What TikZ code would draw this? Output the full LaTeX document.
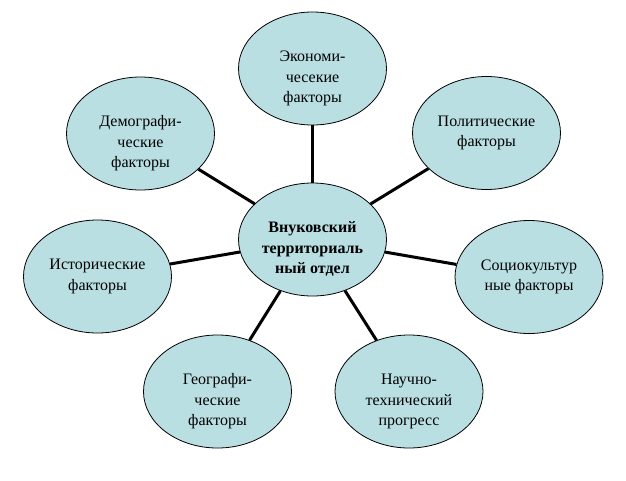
\documentclass[tikz,border=0pt]{standalone}
\usepackage{fontspec}
\newfontfamily\tnr{Liberation Serif}
\usetikzlibrary{shapes.geometric}
\definecolor{bubble}{RGB}{186,223,227}
\tikzset{
  bubble/.style={ellipse, draw=black, line width=0.8pt, fill=bubble,
    minimum width=148pt, minimum height=113pt, inner sep=0pt},
  txt/.style={anchor=base, align=center, inner sep=0pt,
    font=\tnr\fontsize{16}{20.5}\selectfont},
  three/.style={yshift=-34pt},
  two/.style={yshift=-13.5pt},
  link/.style={line width=3pt, black}
}
\begin{document}
\begin{tikzpicture}[x=1pt,y=-1pt]
\useasboundingbox (0,0) rectangle (626,480);
\node[bubble] (c) at (312.5,239.5) {};
\node[bubble] (e1) at (312.5,68.5) {};
\node[bubble] (e2) at (486.5,133) {};
\node[bubble] (e3) at (529,277) {};
\node[bubble] (e4) at (409,391.5) {};
\node[bubble] (e5) at (217.5,391.5) {};
\node[bubble] (e6) at (97.5,276.5) {};
\node[bubble] (e7) at (140.5,133.5) {};
\foreach \n in {e1,e2,e3,e4,e5,e6,e7} \draw[link] (c) -- (\n);
\node[txt, three, font=\tnr\bfseries\fontsize{16}{20.5}\selectfont] (tc) at (c.center) {Внуковский\\территориаль\\ный отдел};
\node[txt, three] (t1) at (e1.center) {Экономи-\\чесекие\\факторы};
\node[txt, two] (t2) at (e2.center) {Политические\\факторы};
\node[txt, two] (t3) at (e3.center) {Социокультур\\ные факторы};
\node[txt, three] (t4) at (e4.center) {Научно-\\технический\\прогресс};
\node[txt, three] (t5) at (e5.center) {Географи-\\ческие\\факторы};
\node[txt, two] (t6) at (e6.center) {Исторические\\факторы};
\node[txt, three] (t7) at (e7.center) {Демографи-\\ческие\\факторы};
\end{tikzpicture}
\end{document}
